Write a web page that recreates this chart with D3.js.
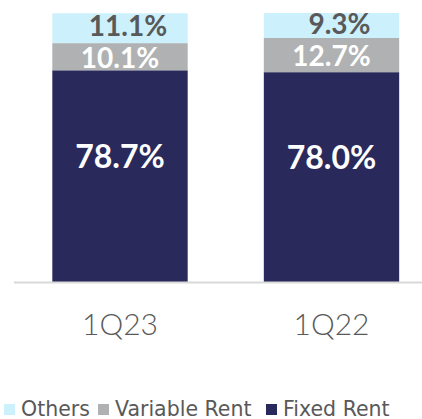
<!DOCTYPE html>
<html>
<head>
<meta charset="utf-8">
<script src="https://cdn.jsdelivr.net/npm/d3@7"></script>
<style>
  body { margin: 0; background: #fff; }
</style>
</head>
<body>
<div id="chart"></div>
<script>
// Data
const quarters = ["1Q23", "1Q22"];
const seriesNames = ["Fixed Rent", "Variable Rent", "Others"];
const fixedRent = [78.7, 78.0];
const variableRent = [10.1, 12.7];
const others = [11.1, 9.3];
const legendOrder = ["Others", "Variable Rent", "Fixed Rent"];

const colors = { "Fixed Rent": "#292a5b", "Variable Rent": "#afb1b2", "Others": "#ccf0fc" };
const labelColors = { "Fixed Rent": "#ffffff", "Variable Rent": "#ffffff", "Others": "#595959" };

const width = 422, height = 419;

const svg = d3.select("#chart")
    .append("svg")
    .attr("width", width)
    .attr("height", height)
    .style("font-family", "'DejaVu Sans', sans-serif");

// Build table for stacking
const table = quarters.map((q, i) => ({
    quarter: q,
    "Fixed Rent": fixedRent[i],
    "Variable Rent": variableRent[i],
    "Others": others[i]
}));

const stack = d3.stack().keys(seriesNames)(table);

const x = d3.scaleBand()
    .domain(quarters)
    .range([14.25, 437.25])
    .paddingInner(0.36)
    .paddingOuter(0.18);

const y = d3.scaleLinear()
    .domain([0, 100])
    .range([282, 13]);

// Bars
const layers = svg.append("g")
    .selectAll("g")
    .data(stack)
    .join("g")
    .attr("fill", d => colors[d.key]);

layers.selectAll("rect")
    .data(d => d)
    .join("rect")
    .attr("x", d => x(d.data.quarter))
    .attr("y", d => y(d[1]))
    .attr("width", x.bandwidth())
    .attr("height", d => y(d[0]) - y(d[1]));

// Value labels
const labelStyle = {
    "Fixed Rent": { size: 32, dx: 0, dy: -20 },
    "Variable Rent": { size: 28, dx: 0, dy: 1 },
    "Others": { size: 28, dx: 8, dy: -2 }
};

stack.forEach(layer => {
    const st = labelStyle[layer.key];
    svg.append("g")
        .selectAll("text")
        .data(layer)
        .join("text")
        .attr("x", d => x(d.data.quarter) + x.bandwidth() / 2 + st.dx)
        .attr("y", d => y((d[0] + d[1]) / 2) + st.dy)
        .attr("dy", "0.36em")
        .attr("text-anchor", "middle")
        .style("font-family", "Lato, sans-serif")
        .style("font-size", st.size + "px")
        .style("font-weight", "bold")
        .attr("fill", labelColors[layer.key])
        .text(d => (d[1] - d[0]).toFixed(1) + "%");
});

// X axis
const xAxis = svg.append("g")
    .attr("transform", "translate(0,282)")
    .call(d3.axisBottom(x).tickSize(0).tickPadding(0));
xAxis.select(".domain").remove();
xAxis.append("line")
    .attr("x1", 14).attr("x2", width)
    .attr("y1", 0.5).attr("y2", 0.5)
    .attr("stroke", "#d9d9d9")
    .attr("stroke-width", 2);
xAxis.selectAll(".tick text")
    .attr("y", 53)
    .attr("dy", 0)
    .style("font-size", "30px")
    .style("font-family", "Lato, sans-serif")
    .style("font-weight", 300)
    .attr("fill", "#595959");

// Legend
const legendX = [4, 98, 266];
const legend = svg.append("g")
    .selectAll("g")
    .data(legendOrder)
    .join("g")
    .attr("transform", (d, i) => `translate(${legendX[i]},404)`);

legend.append("rect")
    .attr("width", 11)
    .attr("height", 11)
    .attr("fill", d => colors[d]);

legend.append("text")
    .attr("x", 17)
    .attr("y", 11.5)
    .style("font-size", "20.5px")
    .attr("fill", "#595959")
    .text(d => d);
</script>
</body>
</html>
